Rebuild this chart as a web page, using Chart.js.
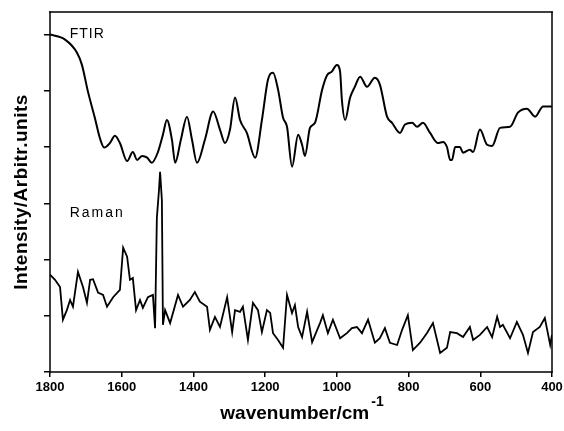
<!DOCTYPE html>
<html lang="en">
<head>
  <meta charset="UTF-8">
  <title>FTIR and Raman spectra</title>
  <style>
    body { margin: 0; padding: 0; background: #fff; }
    #wrap { width: 564px; height: 431px; }
  </style>
  <script src="https://cdn.jsdelivr.net/npm/chart.js"></script>
</head>
<body>
  <div id="wrap"><canvas id="spectra" width="564" height="431"></canvas></div>

  <script>
    // wavenumber (cm-1) and intensity (arbitrary units)
    const ftirWn = [1800, 1758, 1725, 1711, 1694, 1675, 1661, 1649, 1633, 1619, 1605, 1585, 1569, 1557, 1543, 1529, 1516, 1499, 1485, 1474,
      1460, 1451, 1435, 1418, 1404, 1390, 1368, 1345, 1326, 1312, 1298, 1284, 1270, 1251, 1228, 1209, 1192, 1178, 1164, 1150,
      1139, 1125, 1108, 1097, 1089, 1075, 1061, 1041, 1027, 1014, 1000, 991, 986, 977, 963, 950, 935, 916, 894, 880,
      860, 846, 824, 810, 790, 776, 760, 740, 718, 704, 693, 684, 679, 670, 657, 648, 629, 620, 601, 581,
      567, 545, 517, 495, 470, 447, 425, 400];
    const ftirVal = [6.00, 5.91, 5.68, 5.46, 4.98, 4.52, 4.16, 3.99, 4.07, 4.20, 4.07, 3.75, 3.91, 3.77, 3.84, 3.81, 3.72, 3.91, 4.22, 4.48,
      4.13, 3.72, 4.13, 4.54, 4.13, 3.72, 4.13, 4.63, 4.31, 4.07, 4.31, 4.88, 4.48, 4.25, 3.81, 4.48, 5.20, 5.32, 5.02, 4.52,
      4.36, 3.65, 4.22, 4.04, 3.84, 4.34, 4.43, 5.02, 5.28, 5.34, 5.46, 5.34, 4.84, 4.48, 4.88, 5.07, 5.25, 5.07, 5.23, 5.11,
      4.54, 4.43, 4.25, 4.40, 4.43, 4.36, 4.43, 4.25, 4.07, 4.09, 4.00, 3.77, 3.77, 4.00, 4.00, 3.90, 3.95, 3.91, 4.31, 4.04,
      4.02, 4.34, 4.36, 4.61, 4.68, 4.54, 4.72, 4.72];

    const ramanWn = [1800, 1786, 1772, 1764, 1753, 1744, 1736, 1722, 1708, 1697, 1688, 1680, 1666, 1652, 1641, 1624, 1605, 1596, 1585, 1577,
      1569, 1560, 1549, 1541, 1527, 1513, 1507, 1502, 1496, 1493, 1488, 1485, 1479, 1465, 1443, 1429, 1410, 1396, 1382, 1362,
      1354, 1340, 1326, 1306, 1292, 1284, 1270, 1262, 1248, 1234, 1220, 1209, 1195, 1186, 1178, 1164, 1150, 1139, 1125, 1117,
      1108, 1097, 1083, 1069, 1047, 1039, 1025, 1011, 991, 972, 958, 944, 930, 913, 894, 880, 866, 852, 832, 818,
      802, 788, 768, 749, 732, 712, 693, 684, 665, 648, 629, 620, 601, 581, 567, 553, 545, 537, 517, 498,
      481, 467, 453, 434, 420, 405, 400];
    const ramanVal = [1.73, 1.64, 1.51, 0.93, 1.10, 1.28, 1.16, 1.78, 1.51, 1.23, 1.64, 1.65, 1.41, 1.37, 1.16, 1.33, 1.46, 2.21, 2.05, 1.64,
      1.67, 1.10, 1.28, 1.14, 1.33, 1.37, 0.78, 2.74, 3.24, 3.56, 3.06, 0.84, 1.10, 0.87, 1.37, 1.16, 1.28, 1.42, 1.25, 1.16,
      0.75, 0.98, 0.80, 1.33, 0.71, 1.10, 1.07, 1.16, 0.57, 1.23, 1.10, 0.71, 1.10, 1.05, 0.69, 0.57, 0.43, 1.37, 1.05, 1.19,
      0.80, 0.62, 1.07, 0.53, 0.87, 1.01, 0.69, 0.93, 0.60, 0.69, 0.78, 0.80, 0.69, 0.93, 0.52, 0.60, 0.78, 0.52, 0.48, 0.75,
      1.01, 0.39, 0.52, 0.69, 0.87, 0.34, 0.43, 0.71, 0.69, 0.62, 0.80, 0.57, 0.66, 0.80, 0.62, 0.98, 0.80, 0.84, 0.60, 0.89,
      0.66, 0.34, 0.71, 0.80, 0.96, 0.48, 0.66];

    const xTicks = [1800, 1600, 1400, 1200, 1000, 800, 600, 400];
    const yTicks = [0, 1, 2, 3, 4, 5, 6];

    function toPoints(xs, ys) {
      return xs.map((x, i) => ({ x: x, y: ys[i] }));
    }

    // frame, in-plot labels and axis titles
    const decorations = {
      id: 'decorations',
      afterDraw(chart) {
        const ctx = chart.ctx;
        const xs = chart.scales.x;
        const ys = chart.scales.y;
        const left = xs.getPixelForValue(1800);
        const right = xs.getPixelForValue(400);
        const top = ys.getPixelForValue(6.4);
        const bottom = ys.getPixelForValue(0);
        ctx.save();
        ctx.globalAlpha = 1;
        ctx.globalCompositeOperation = 'source-over';
        ctx.fillStyle = '#000';
        // frame drawn as filled strips
        const w = 1.5;
        ctx.fillRect(left - w / 2, top - w / 2, right - left + w, w);
        ctx.fillRect(left - w / 2, bottom - w / 2, right - left + w, w);
        ctx.fillRect(left - w / 2, top - w / 2, w, bottom - top + w);
        ctx.fillRect(right - w / 2, top - w / 2, w, bottom - top + w);

        ctx.textBaseline = 'middle';
        ctx.textAlign = 'left';
        ctx.font = '14px "Liberation Sans", Arial, sans-serif';
        ctx.letterSpacing = '1px';
        ctx.fillText('FTIR', xs.getPixelForValue(1745), ys.getPixelForValue(6.0));
        ctx.letterSpacing = '2px';
        ctx.fillText('Raman', xs.getPixelForValue(1745), ys.getPixelForValue(2.82));
        ctx.letterSpacing = '0px';

        // x axis title with superscript
        ctx.font = 'bold 19px "Liberation Sans", Arial, sans-serif';
        const main = 'wavenumber/cm';
        const mw = ctx.measureText(main).width;
        ctx.font = 'bold 14px "Liberation Sans", Arial, sans-serif';
        const sup = '-1';
        const sw = ctx.measureText(sup).width;
        const cx = (left + right) / 2;
        const startX = cx - (mw + sw) / 2;
        ctx.font = 'bold 19px "Liberation Sans", Arial, sans-serif';
        ctx.fillText(main, startX, 414);
        ctx.font = 'bold 14px "Liberation Sans", Arial, sans-serif';
        ctx.fillText(sup, startX + mw + 2, 402);

        // y axis title
        ctx.translate(22, (top + bottom) / 2);
        ctx.rotate(-Math.PI / 2);
        ctx.textAlign = 'center';
        ctx.font = 'bold 19px "Liberation Sans", Arial, sans-serif';
        ctx.letterSpacing = '0.5px';
        ctx.fillText('Intensity/Arbitr.units', 0, 0);
        ctx.restore();
      }
    };

    const ctx = document.getElementById('spectra').getContext('2d');
    new Chart(ctx, {
      type: 'line',
      data: {
        datasets: [
          {
            label: 'FTIR',
            data: toPoints(ftirWn, ftirVal),
            borderColor: '#000',
            borderWidth: 2,
            pointRadius: 0,
            cubicInterpolationMode: 'monotone',
            fill: false
          },
          {
            label: 'Raman',
            data: toPoints(ramanWn, ramanVal),
            borderColor: '#000',
            borderWidth: 1.8,
            pointRadius: 0,
            tension: 0,
            fill: false
          }
        ]
      },
      options: {
        responsive: false,
        animation: false,
        layout: { padding: { top: 12, right: 12, left: 0, bottom: 0 } },
        plugins: {
          legend: { display: false },
          tooltip: { enabled: false }
        },
        scales: {
          x: {
            type: 'linear',
            reverse: true,
            min: 400,
            max: 1800,
            afterBuildTicks: (scale) => { scale.ticks = xTicks.map(v => ({ value: v })); },
            afterFit: (scale) => { scale.height = 59; scale.paddingRight = 0; scale.paddingLeft = 0; },
            border: { display: false },
            grid: {
              drawOnChartArea: false,
              drawTicks: true,
              tickLength: 5,
              color: '#000',
              lineWidth: 1.5
            },
            ticks: {
              color: '#000',
              padding: 3,
              maxRotation: 0,
              callback: (v) => String(v),
              font: { family: '"Liberation Sans", Arial, sans-serif', size: 13, weight: 'bold' }
            }
          },
          y: {
            type: 'linear',
            min: 0,
            max: 6.4,
            afterBuildTicks: (scale) => { scale.ticks = yTicks.map(v => ({ value: v })); },
            afterFit: (scale) => { scale.width = 50; },
            border: { display: false },
            grid: {
              drawOnChartArea: false,
              drawTicks: true,
              tickLength: 6,
              color: '#000',
              lineWidth: 1.5
            },
            ticks: { display: false }
          }
        }
      },
      plugins: [decorations]
    });
  </script>
</body>
</html>
